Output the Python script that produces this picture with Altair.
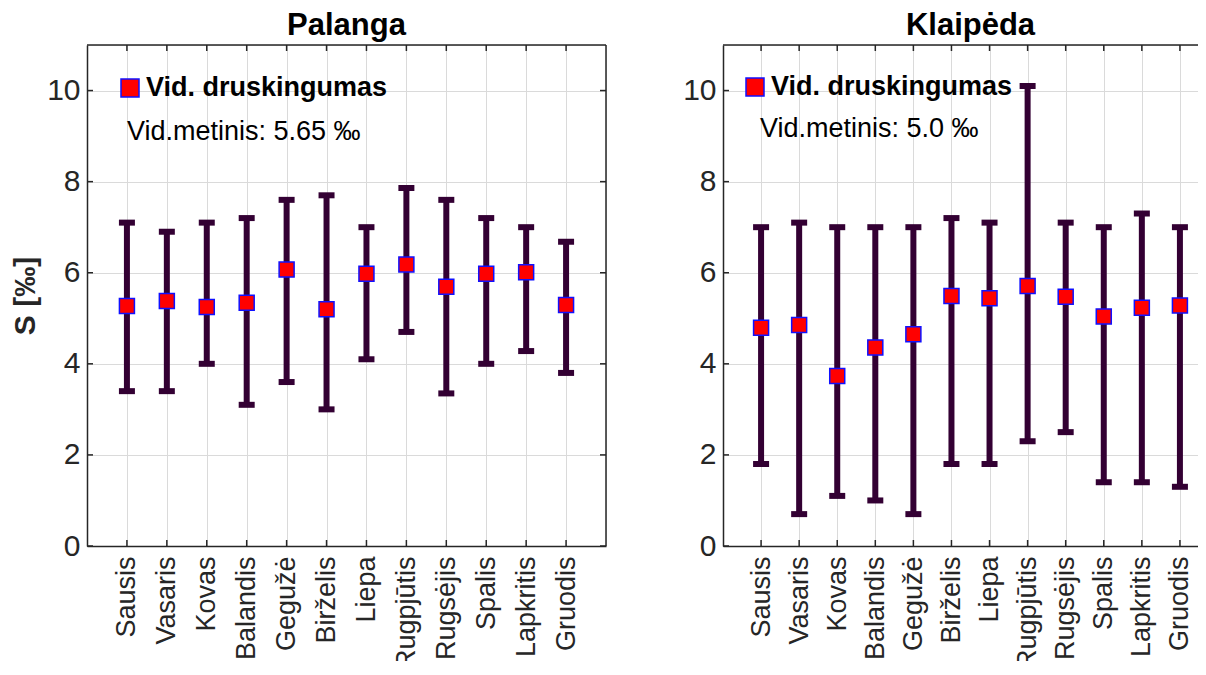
import json
import altair as alt
import pandas as pd

months = ["Sausis", "Vasaris", "Kovas", "Balandis", "Gegužė", "Birželis",
          "Liepa", "Rugpjūtis", "Rugsėjis", "Spalis", "Lapkritis", "Gruodis"]
positions = list(range(1, 13))

# Palanga
pal_mean = [5.27, 5.38, 5.25, 5.34, 6.07, 5.20, 5.98, 6.18, 5.69, 5.98, 6.01, 5.29]
pal_lo = [3.40, 3.40, 4.00, 3.10, 3.60, 3.00, 4.10, 4.70, 3.35, 4.00, 4.28, 3.80]
pal_hi = [7.10, 6.90, 7.10, 7.20, 7.60, 7.70, 7.00, 7.86, 7.60, 7.20, 7.00, 6.68]

# Klaipėda
kla_mean = [4.79, 4.85, 3.73, 4.36, 4.65, 5.49, 5.44, 5.71, 5.47, 5.04, 5.23, 5.28]
kla_lo = [1.80, 0.70, 1.10, 1.00, 0.70, 1.80, 1.80, 2.30, 2.50, 1.40, 1.40, 1.30]
kla_hi = [7.00, 7.10, 7.00, 7.00, 7.00, 7.20, 7.10, 10.10, 7.10, 7.00, 7.30, 7.00]

y_ticks = [0, 2, 4, 6, 8, 10]

FONT = "Liberation Sans"
DARK = "#262626"
BAR = "#330033"
H = 501

label_expr = json.dumps(months) + "[datum.value - 1]"


def panel(title, mean, lo, hi, width, xmax, ytitle, legend_xy, metinis_xy, metinis_text, right_border, title_dx):
    df = pd.DataFrame({"pos": positions, "month": months, "mean": mean, "lo": lo, "hi": hi})
    xs = alt.Scale(domain=[0, xmax], nice=False, zero=False)
    ys = alt.Scale(domain=[0, 11], nice=False)

    xaxis = alt.Axis(values=positions, labelExpr=label_expr, labelAngle=-90, labelAlign="right",
                     labelBaseline="middle", labelFontSize=27, labelFont=FONT, labelColor=DARK,
                     labelPadding=10, ticks=False, grid=True, gridColor="#dadada", gridWidth=1,
                     domainColor=DARK, domainWidth=1.5, title=None, labelOverlap=False)
    yaxis_kwargs = dict(values=y_ticks, labelFontSize=30, labelFont=FONT, labelColor=DARK,
                        labelPadding=7, ticks=False, grid=True, gridColor="#dadada", gridWidth=1,
                        domainColor=DARK, domainWidth=1.5)
    if ytitle:
        yaxis = alt.Axis(title=ytitle, titleFontSize=30, titleFont=FONT, titleFontWeight="bold",
                         titleColor=DARK, titlePadding=6, **yaxis_kwargs)
    else:
        yaxis = alt.Axis(title=None, **yaxis_kwargs)

    base = alt.Chart(df)
    bars = base.mark_rule(color=BAR, strokeWidth=6).encode(
        x=alt.X("pos:Q", scale=xs, axis=xaxis),
        y=alt.Y("lo:Q", scale=ys, axis=yaxis),
        y2="hi:Q",
    )
    cap_lo = base.mark_tick(color=BAR, orient="horizontal", size=16, thickness=6, opacity=1).encode(
        x=alt.X("pos:Q", scale=xs), y=alt.Y("lo:Q", scale=ys))
    cap_hi = base.mark_tick(color=BAR, orient="horizontal", size=16, thickness=6, opacity=1).encode(
        x=alt.X("pos:Q", scale=xs), y=alt.Y("hi:Q", scale=ys))
    pts = base.mark_square(size=225, color="#ff0000", stroke="#1010ff", strokeWidth=1.5,
                           opacity=1, filled=True).encode(
        x=alt.X("pos:Q", scale=xs), y=alt.Y("mean:Q", scale=ys))

    # inward ticks
    ydf = pd.DataFrame({"v": y_ticks})
    xdf = pd.DataFrame({"p": positions})
    lt = alt.Chart(ydf).mark_rule(color=DARK, strokeWidth=1.5).encode(
        y=alt.Y("v:Q", scale=ys), x=alt.value(0), x2=alt.value(6))
    bt = alt.Chart(xdf).mark_rule(color=DARK, strokeWidth=1.5).encode(
        x=alt.X("p:Q", scale=xs), y=alt.value(H), y2=alt.value(H - 6))
    tt = alt.Chart(xdf).mark_rule(color=DARK, strokeWidth=1.5).encode(
        x=alt.X("p:Q", scale=xs), y=alt.value(0), y2=alt.value(6))
    top_border = alt.Chart(xdf.head(1)).mark_rule(color=DARK, strokeWidth=1.5).encode(
        y=alt.value(0), x=alt.value(0), x2=alt.value(width))

    layers = [bars, cap_lo, cap_hi, pts, lt, bt, tt, top_border]
    if right_border:
        rb = alt.Chart(xdf.head(1)).mark_rule(color=DARK, strokeWidth=1.5).encode(
            x=alt.value(width), y=alt.value(0), y2=alt.value(H))
        rt = alt.Chart(ydf).mark_rule(color=DARK, strokeWidth=1.5).encode(
            y=alt.Y("v:Q", scale=ys), x=alt.value(width - 6), x2=alt.value(width))
        layers += [rb, rt]

    # legend-like annotation
    ldf = pd.DataFrame({"t": ["Vid. druskingumas"]})
    lm = alt.Chart(ldf).mark_square(size=324, color="#ff0000", stroke="#1010ff", strokeWidth=1.5,
                                    opacity=1, filled=True).encode(
        x=alt.value(legend_xy[0]), y=alt.value(legend_xy[1]))
    lt_text = alt.Chart(ldf).mark_text(font=FONT, fontSize=27, fontWeight="bold", color="#000000",
                                       align="left", baseline="middle").encode(
        x=alt.value(legend_xy[0] + 16), y=alt.value(legend_xy[1]), text="t:N")
    mdf = pd.DataFrame({"t": [metinis_text]})
    mt = alt.Chart(mdf).mark_text(font=FONT, fontSize=27, color="#000000",
                                  align="left", baseline="middle").encode(
        x=alt.value(metinis_xy[0]), y=alt.value(metinis_xy[1]), text="t:N")
    layers += [lm, lt_text, mt]

    return alt.layer(*layers).properties(
        width=width, height=H,
        title=alt.TitleParams(title, font=FONT, fontSize=31, fontWeight="bold", color="#000000",
                              anchor="middle", offset=2, dx=title_dx),
    )


left = panel("Palanga", pal_mean, pal_lo, pal_hi, 519, 13, "S [‰]", (43, 43), (40, 87),
             "Vid.metinis: 5.65 ‰", True, 0)
right = panel("Klaipėda", kla_mean, kla_lo, kla_hi, 495, 13, None, (32, 42), (37, 84),
              "Vid.metinis: 5.0 ‰", False, 0)

chart = alt.hconcat(left, right, spacing=74).configure_view(stroke=None).configure(
    padding={"left": 2, "top": 1, "right": -22, "bottom": -9})

chart.save("out.html", embed_options={"renderer": "svg", "actions": False})
